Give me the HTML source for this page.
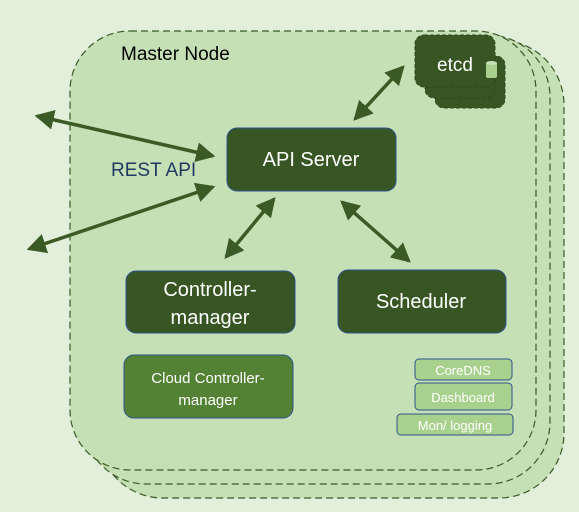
<!DOCTYPE html>
<html><head><meta charset="utf-8"><style>
html,body{margin:0;padding:0;background:#e2efda;}
svg{display:block;font-family:"Liberation Sans","DejaVu Sans",sans-serif;}
</style></head><body>
<svg width="579" height="512" viewBox="0 0 579 512" xmlns="http://www.w3.org/2000/svg">
<defs>
<marker id="ah" markerWidth="6.5" markerHeight="6.5" refX="4.8" refY="3.25" orient="auto-start-reverse" markerUnits="strokeWidth">
<path d="M0,0.4 L5.5,3.25 L0,6.1 Z" fill="#3a5a26"/>
</marker>
</defs>
<rect width="579" height="512" fill="#e2efda"/>
<g fill="#c5e0b4" stroke="#3a5a26" stroke-width="1.2" stroke-dasharray="7,4">
<rect x="98" y="40" width="466" height="458" rx="65"/>
<rect x="84" y="35" width="466" height="449" rx="62"/>
<rect x="70" y="31" width="466" height="439" rx="60"/>
</g>
<text x="121" y="60" font-size="19" fill="#000">Master Node</text>
<g fill="#375623" stroke="#2e4a1d" stroke-width="1" stroke-dasharray="4,2">
<rect x="435" y="56" width="70" height="52" rx="9"/>
<rect x="425" y="46" width="70" height="52" rx="9"/>
<rect x="415" y="35" width="80" height="52" rx="9"/>
</g>
<text x="437" y="71" font-size="19" fill="#fff">etcd</text>
<rect x="486" y="62" width="11" height="16" rx="2" fill="#a9d18e"/>
<ellipse cx="491.5" cy="63" rx="5.5" ry="2" fill="#c5e0b4"/>
<g stroke="#2f528f" stroke-width="1">
<rect x="227" y="128" width="169" height="63" rx="10" fill="#375623"/>
<rect x="126" y="271" width="169" height="62" rx="10" fill="#375623"/>
<rect x="338" y="270" width="168" height="63" rx="10" fill="#375623"/>
<rect x="124" y="355" width="169" height="63" rx="10" fill="#548235"/>
<rect x="415" y="359" width="97" height="21" rx="4" fill="#a9d18e"/>
<rect x="415" y="383" width="97" height="27" rx="4" fill="#a9d18e"/>
<rect x="397" y="414" width="116" height="21" rx="4" fill="#a9d18e"/>
</g>
<g fill="#fff" text-anchor="middle">
<text x="311" y="166" font-size="20">API Server</text>
<text x="210" y="296" font-size="20">Controller-</text>
<text x="210" y="324" font-size="20">manager</text>
<text x="421" y="308" font-size="20">Scheduler</text>
<text x="208" y="383" font-size="15">Cloud Controller-</text>
<text x="208" y="405" font-size="15">manager</text>
<text x="463" y="375" font-size="13">CoreDNS</text>
<text x="463" y="402" font-size="13">Dashboard</text>
<text x="455" y="430" font-size="13">Mon/ logging</text>
</g>
<text x="111" y="176" font-size="19" fill="#203864">REST API</text>
<g stroke="#3a5a26" stroke-width="3.5" marker-start="url(#ah)" marker-end="url(#ah)" fill="none">
<line x1="37" y1="116" x2="213" y2="156"/>
<line x1="29" y1="249" x2="213" y2="187"/>
<line x1="355" y1="119" x2="403" y2="67"/>
<line x1="274" y1="199" x2="226" y2="257"/>
<line x1="342" y1="202" x2="409" y2="261"/>
</g>
</svg>
</body></html>
